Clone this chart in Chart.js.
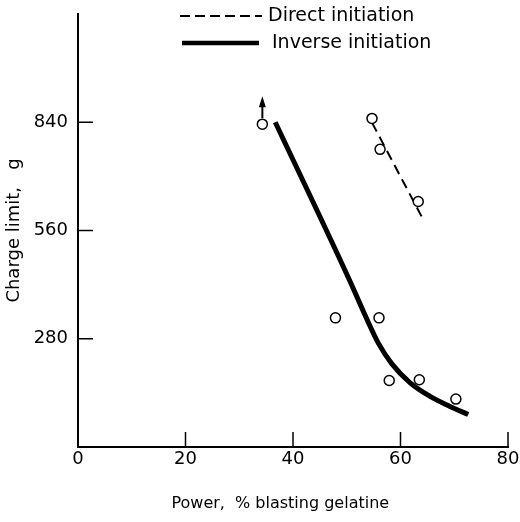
<!DOCTYPE html>
<html>
<head>
<meta charset="utf-8">
<script src="https://cdn.jsdelivr.net/npm/chart.js@4"></script>
<style>
  html, body { margin: 0; padding: 0; background: #fff; }
  #wrap { width: 520px; height: 522px; }
</style>
</head>
<body>
<div id="wrap"><canvas id="myChart" width="520" height="522"></canvas></div>
<script>
// measured points (power %, charge limit g)
var directX = [54.7, 56.2, 63.3];
var directY = [850, 770, 635];
var inverseX = [34.3, 47.9, 56.0, 57.9, 63.5, 70.3];
var inverseY = [835, 334, 334, 172, 174, 124];

// fitted lines
var directFitX = [54.7, 64.2];
var directFitY = [839, 589];
var inverseFitX = [36.7, 50.5, 53.5, 55.9, 58.4, 61.8, 65.5, 69.2, 72.6];
var inverseFitY = [840, 432, 338, 268, 215, 166, 131, 105, 84];

var xTicks = [0, 20, 40, 60, 80];
var yTicks = [280, 560, 840];

function pairs(xs, ys) {
  return xs.map(function (x, i) { return { x: x, y: ys[i] }; });
}

// inward tick marks, arrow on the open point, hand-drawn legend
var extras = {
  id: 'extras',
  afterDraw: function (chart) {
    var c = chart.ctx;
    var xs = chart.scales.x, ys = chart.scales.y;
    var a = chart.chartArea;
    c.save();
    c.strokeStyle = '#000';
    c.lineWidth = 1.5;
    yTicks.forEach(function (v) {
      var py = ys.getPixelForValue(v);
      c.beginPath(); c.moveTo(a.left, py); c.lineTo(a.left + 15, py); c.stroke();
    });
    xTicks.forEach(function (v) {
      if (v === 0) return;
      var px = xs.getPixelForValue(v);
      c.beginPath(); c.moveTo(px, a.bottom); c.lineTo(px, a.bottom - 15); c.stroke();
    });

    // arrow above the first inverse point (value is a lower bound)
    var ax = xs.getPixelForValue(inverseX[0]);
    var ay = ys.getPixelForValue(inverseY[0]) - 6;
    c.lineWidth = 2;
    c.beginPath(); c.moveTo(ax, ay); c.lineTo(ax, ay - 14); c.stroke();
    c.fillStyle = '#000';
    c.beginPath();
    c.moveTo(ax, ay - 22); c.lineTo(ax - 3.5, ay - 11); c.lineTo(ax + 3.5, ay - 11);
    c.closePath(); c.fill();

    // legend
    c.lineWidth = 2;
    c.setLineDash([10, 5]);
    c.beginPath(); c.moveTo(180, 16); c.lineTo(262, 16); c.stroke();
    c.setLineDash([]);
    c.lineWidth = 4.5;
    c.beginPath(); c.moveTo(182, 43); c.lineTo(259, 43); c.stroke();
    c.font = '19px "DejaVu Sans"';
    c.textBaseline = 'middle';
    c.textAlign = 'left';
    c.fillText('Direct initiation', 268, 16);
    c.fillText('Inverse initiation', 272, 43);
    c.restore();
  }
};

var ctx = document.getElementById('myChart').getContext('2d');
var myChart = new Chart(ctx, {
  type: 'scatter',
  data: {
    datasets: [
      {
        label: 'Direct initiation points',
        data: pairs(directX, directY),
        pointStyle: 'circle',
        pointRadius: 5,
        pointBackgroundColor: '#fff',
        pointBorderColor: '#000',
        pointBorderWidth: 1.5,
        order: 0
      },
      {
        label: 'Inverse initiation points',
        data: pairs(inverseX, inverseY),
        pointStyle: 'circle',
        pointRadius: 5,
        pointBackgroundColor: '#fff',
        pointBorderColor: '#000',
        pointBorderWidth: 1.5,
        order: 0
      },
      {
        label: 'Direct initiation',
        type: 'line',
        data: pairs(directFitX, directFitY),
        borderColor: '#000',
        borderWidth: 2,
        borderDash: [10, 6],
        pointRadius: 0,
        fill: false,
        order: 2
      },
      {
        label: 'Inverse initiation',
        type: 'line',
        data: pairs(inverseFitX, inverseFitY),
        borderColor: '#000',
        borderWidth: 5,
        cubicInterpolationMode: 'monotone',
        pointRadius: 0,
        fill: false,
        order: 2
      }
    ]
  },
  options: {
    responsive: false,
    animation: false,
    layout: { padding: { top: 14, right: 12, bottom: 0, left: 0 } },
    plugins: {
      legend: { display: false },
      tooltip: { enabled: false }
    },
    scales: {
      x: {
        type: 'linear',
        min: 0,
        max: 80,
        afterBuildTicks: function (s) { s.ticks = xTicks.map(function (v) { return { value: v }; }); },
        grid: { drawOnChartArea: false, drawTicks: false },
        border: { color: '#000', width: 2 },
        ticks: {
          color: '#000',
          padding: 2,
          maxRotation: 0,
          font: { family: 'DejaVu Sans', size: 18 }
        },
        title: {
          display: true,
          text: 'Power,  % blasting gelatine     ',
          color: '#000',
          font: { family: 'DejaVu Sans', size: 16 },
          padding: { top: 4, bottom: 9 }
        },
        afterFit: function (s) { s.height = 75; s.paddingLeft = 0; s.paddingRight = 0; }
      },
      y: {
        type: 'linear',
        min: 0,
        max: 1120,
        afterBuildTicks: function (s) { s.ticks = yTicks.map(function (v) { return { value: v }; }); },
        grid: { drawOnChartArea: false, drawTicks: false },
        border: { color: '#000', width: 2 },
        ticks: {
          color: '#000',
          padding: 10,
          font: { family: 'DejaVu Sans', size: 18 }
        },
        title: {
          display: true,
          text: 'Charge limit,   g',
          color: '#000',
          font: { family: 'DejaVu Sans', size: 18 },
          padding: { top: 4, bottom: 4 }
        },
        afterFit: function (s) { s.width = 78; s.paddingTop = 0; s.paddingBottom = 0; }
      }
    }
  },
  plugins: [extras]
});
</script>
</body>
</html>
